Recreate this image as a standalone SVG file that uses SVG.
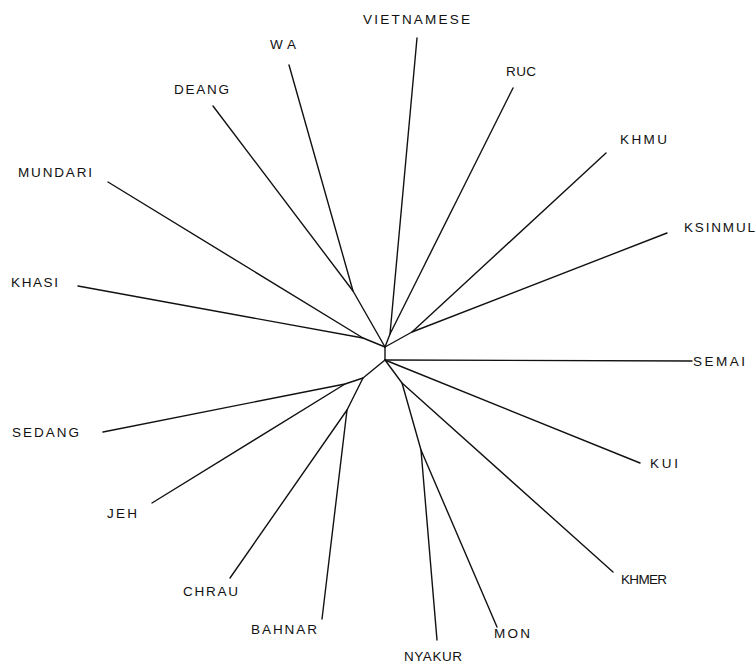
<svg xmlns="http://www.w3.org/2000/svg" width="756" height="666" viewBox="0 0 756 666">
<style>
.e{stroke:#111;stroke-width:1.4;fill:none;stroke-linecap:round;stroke-linejoin:round}
.t{font-family:"Liberation Sans",Arial,sans-serif;font-size:13.5px;fill:#111}
</style>
<rect width="756" height="666" fill="#fff"/>
<g id="connectors" class="e">
<polyline points="385,347 385,360"/>
<polyline points="289,65 353,291 385,347"/>
<line x1="213" y1="106" x2="353" y2="291"/>
<polyline points="108,182 363,338 385,347"/>
<line x1="78" y1="286" x2="363" y2="338"/>
<polyline points="417,38 390,334 385,347"/>
<line x1="513" y1="88" x2="390" y2="334"/>
<polyline points="606,153 412,332 385,347"/>
<line x1="667" y1="233" x2="412" y2="332"/>
<line x1="385" y1="360" x2="692" y2="361"/>
<line x1="385" y1="360" x2="640" y2="463"/>
<polyline points="385,360 402,383 613,572"/>
<polyline points="402,383 421,450 437,640"/>
<line x1="421" y1="450" x2="497" y2="627"/>
<polyline points="385,360 363,378 345,384 103,432"/>
<line x1="345" y1="384" x2="152" y2="503"/>
<polyline points="363,378 347,410 230,578"/>
<line x1="347" y1="410" x2="322" y2="619"/>
</g>
<g id="VIETNAMESE"><text class="t" x="363" y="24" textLength="107">VIETNAMESE</text></g>
<g id="WA"><text class="t" x="270" y="49" textLength="26">WA</text></g>
<g id="DEANG"><text class="t" x="174" y="94" textLength="55">DEANG</text></g>
<g id="RUC"><text class="t" x="506" y="76" textLength="30">RUC</text></g>
<g id="KHMU"><text class="t" x="620" y="144" textLength="47">KHMU</text></g>
<g id="KSINMUL"><text class="t" x="684" y="232" textLength="71">KSINMUL</text></g>
<g id="MUNDARI"><text class="t" x="18" y="177" textLength="74">MUNDARI</text></g>
<g id="KHASI"><text class="t" x="11" y="287" textLength="47">KHASI</text></g>
<g id="SEMAI"><text class="t" x="693" y="366" textLength="52">SEMAI</text></g>
<g id="KUI"><text class="t" x="650" y="468" textLength="28">KUI</text></g>
<g id="KHMER"><text class="t" x="621" y="584" textLength="46">KHMER</text></g>
<g id="MON"><text class="t" x="494" y="638" textLength="36">MON</text></g>
<g id="NYAKUR"><text class="t" x="404" y="661" textLength="58">NYAKUR</text></g>
<g id="BAHNAR"><text class="t" x="251" y="634" textLength="66">BAHNAR</text></g>
<g id="CHRAU"><text class="t" x="183" y="596" textLength="55">CHRAU</text></g>
<g id="JEH"><text class="t" x="107" y="518" textLength="30">JEH</text></g>
<g id="SEDANG"><text class="t" x="12" y="437" textLength="67">SEDANG</text></g>
</svg>
